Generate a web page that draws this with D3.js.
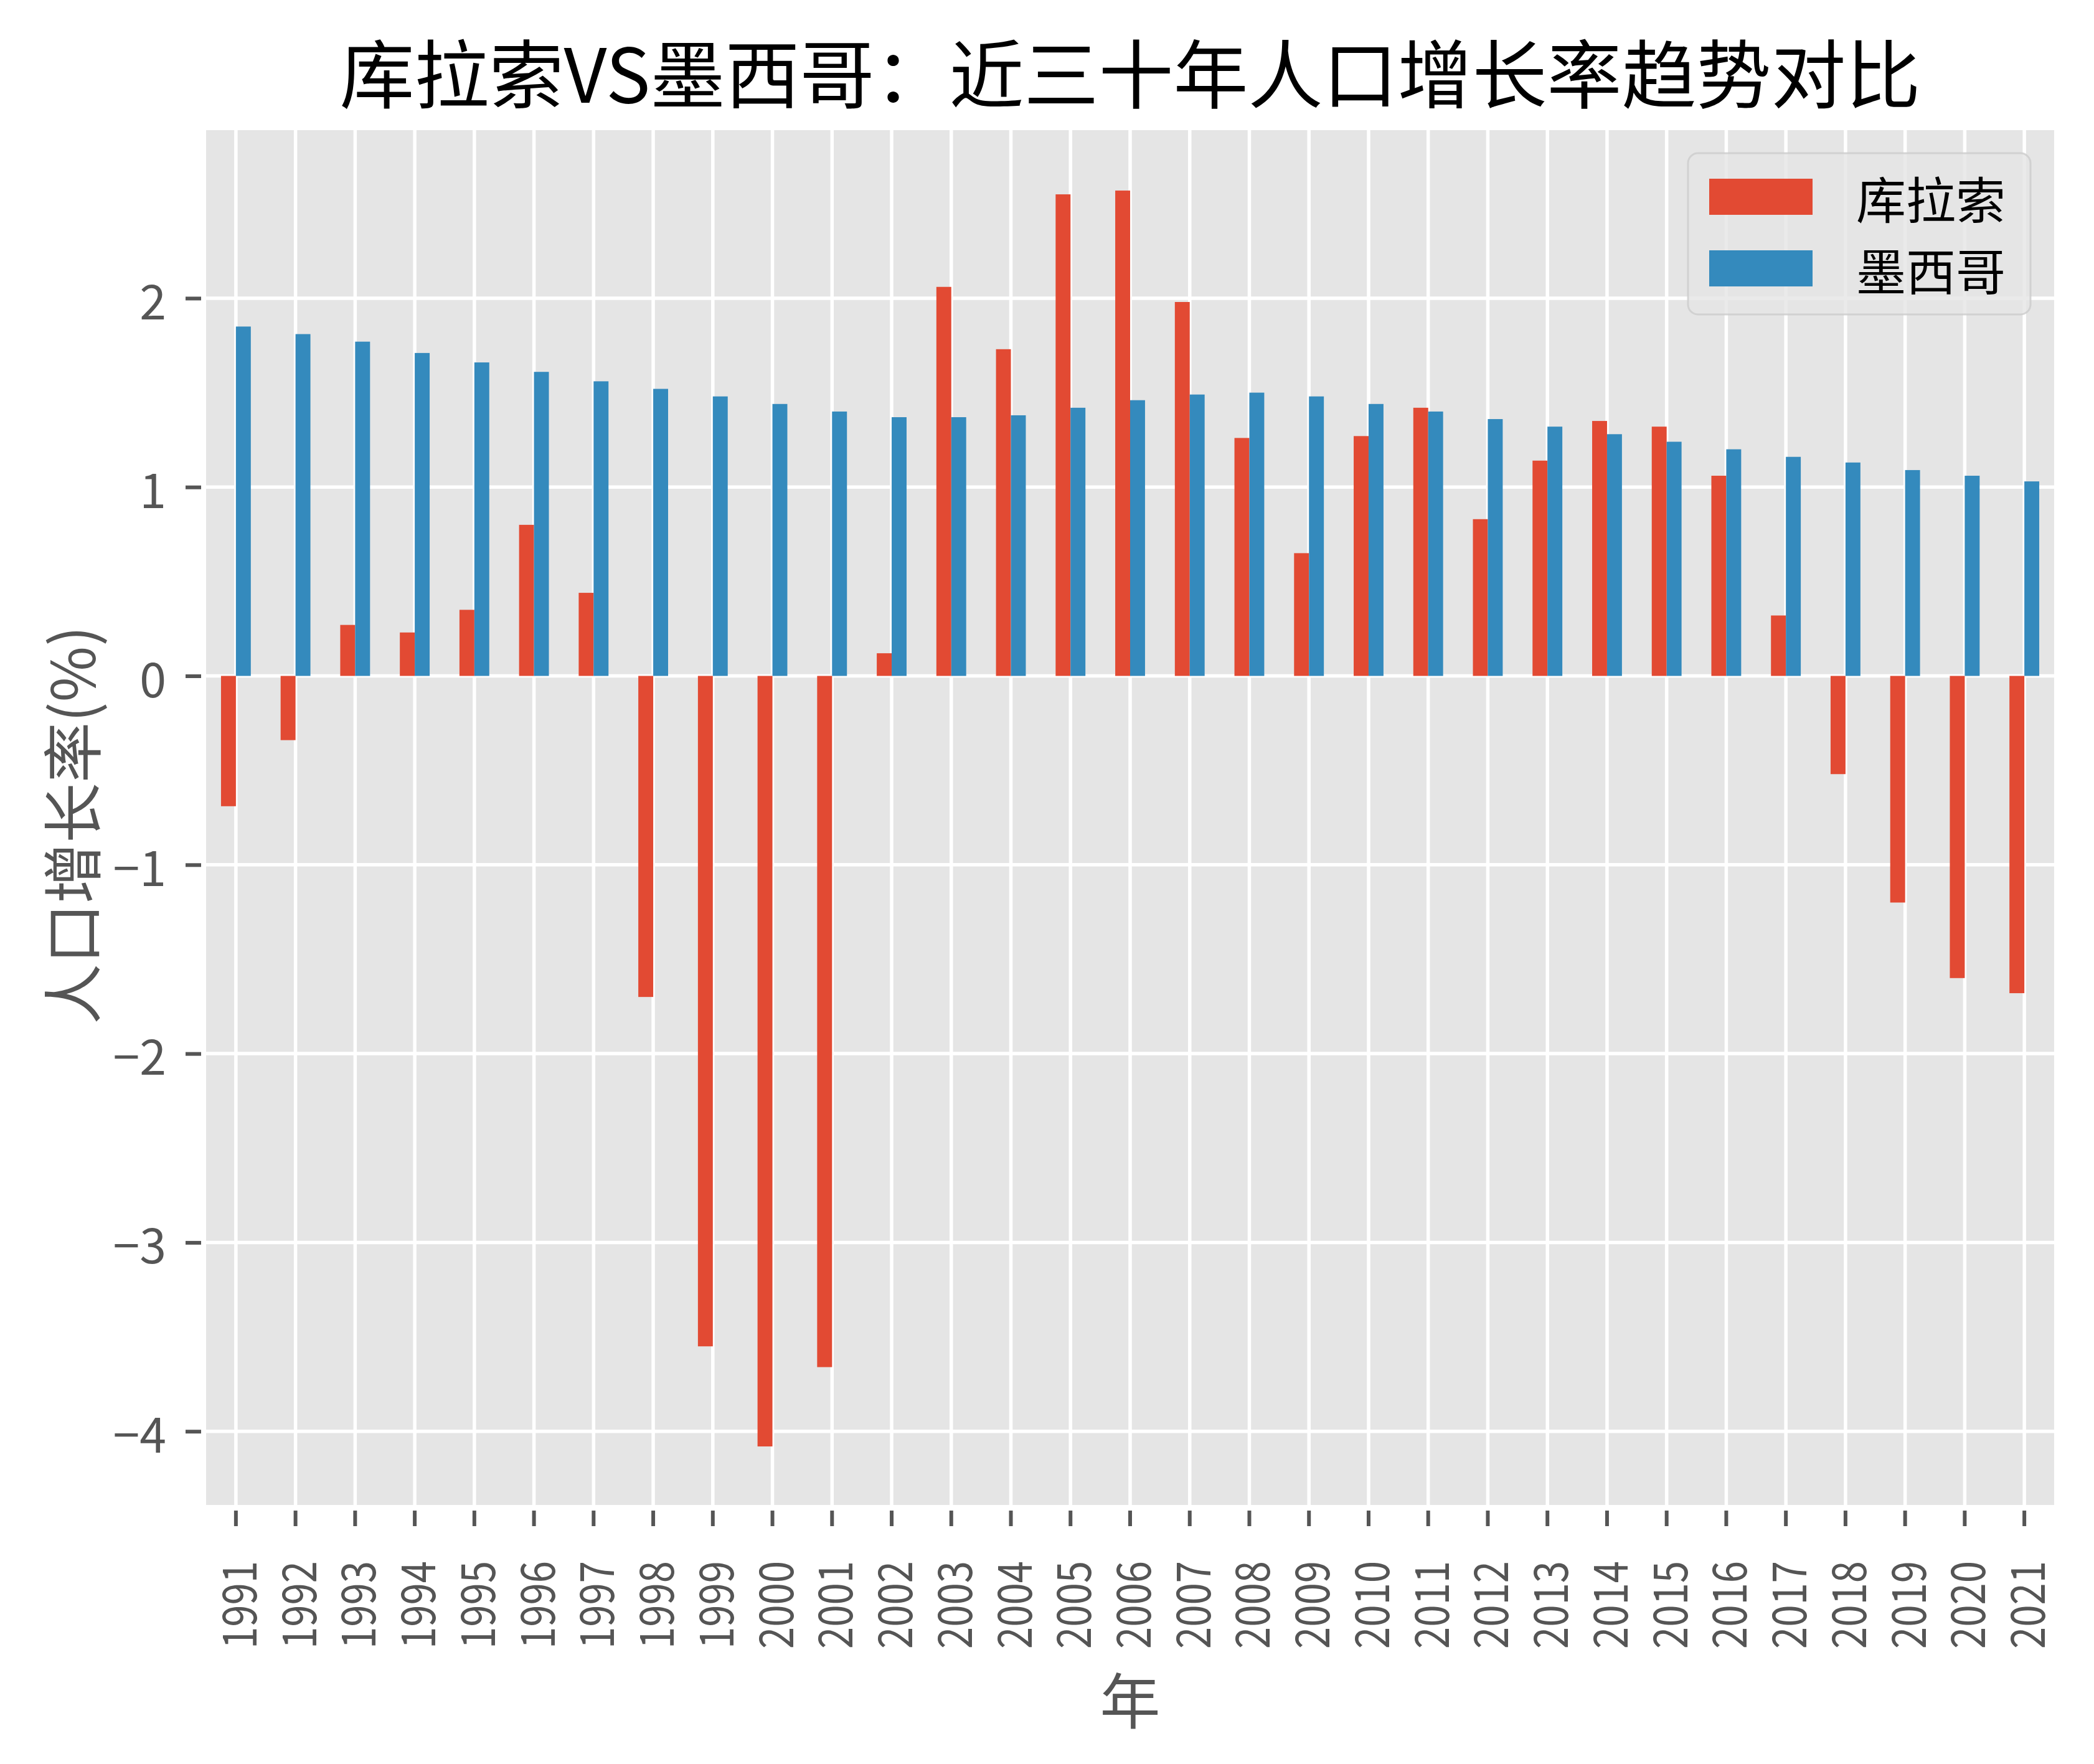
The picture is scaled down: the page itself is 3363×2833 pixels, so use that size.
<!DOCTYPE html>
<html>
<head>
<meta charset="utf-8">
<script src="https://cdn.jsdelivr.net/npm/d3@7"></script>
<style>
  html, body { margin: 0; padding: 0; background: #ffffff; }
  svg { display: block; }
  text { font-family: "Noto Sans CJK SC", "Noto Sans", sans-serif; }
</style>
</head>
<body>
<script>
// ---- data ----
const years = [1991,1992,1993,1994,1995,1996,1997,1998,1999,2000,2001,2002,2003,2004,2005,2006,2007,2008,2009,2010,2011,2012,2013,2014,2015,2016,2017,2018,2019,2020,2021];
const curacao = [-0.69,-0.34,0.27,0.23,0.35,0.80,0.44,-1.70,-3.55,-4.08,-3.66,0.12,2.06,1.73,2.55,2.57,1.98,1.26,0.65,1.27,1.42,0.83,1.14,1.35,1.32,1.06,0.32,-0.52,-1.20,-1.60,-1.68];
const mexico  = [1.85,1.81,1.77,1.71,1.66,1.61,1.56,1.52,1.48,1.44,1.40,1.37,1.37,1.38,1.42,1.46,1.49,1.50,1.48,1.44,1.40,1.36,1.32,1.28,1.24,1.20,1.16,1.13,1.09,1.06,1.03];
const seriesNames = ["库拉索", "墨西哥"];
const seriesColors = ["#E24A33", "#348ABD"];
const yTicks = [-4,-3,-2,-1,0,1,2];
const titleText = "库拉索VS墨西哥：近三十年人口增长率趋势对比";
const xLabel = "年";
const yLabel = "人口增长率(%)";

// ---- layout ----
const W = 3363, H = 2833;
const plot = {left: 331, right: 3299, top: 209, bottom: 2417};

const svg = d3.select("body").append("svg").attr("width", W).attr("height", H);
svg.append("rect").attr("width", W).attr("height", H).attr("fill", "#ffffff");

const x = d3.scaleBand().domain(years).range([plot.left, plot.right]).padding(0);
const y = d3.scaleLinear().domain([-4.39, 2.89]).range([plot.bottom, plot.top]);
const bw = x.bandwidth();
const cx = d => x(d) + bw / 2;
const barW = bw * 0.25;

// background
svg.append("rect")
  .attr("x", plot.left).attr("y", plot.top)
  .attr("width", plot.right - plot.left).attr("height", plot.bottom - plot.top)
  .attr("fill", "#E5E5E5");

// grid
const grid = svg.append("g");
grid.selectAll("line.h").data(yTicks).enter().append("line")
  .attr("x1", plot.left).attr("x2", plot.right)
  .attr("y1", d => y(d)).attr("y2", d => y(d))
  .attr("stroke", "#ffffff").attr("stroke-width", 5.5);
grid.selectAll("line.v").data(years).enter().append("line")
  .attr("y1", plot.top).attr("y2", plot.bottom)
  .attr("x1", d => cx(d)).attr("x2", d => cx(d))
  .attr("stroke", "#ffffff").attr("stroke-width", 5.5);

// bars
const rows = years.map((yr, i) => ({year: yr, c: curacao[i], m: mexico[i]}));
const bars = svg.append("g");
bars.selectAll("rect.c").data(rows).enter().append("rect")
  .attr("x", d => cx(d.year) - barW)
  .attr("width", barW)
  .attr("y", d => y(Math.max(0, d.c)))
  .attr("height", d => Math.abs(y(d.c) - y(0)))
  .attr("fill", seriesColors[0]);
bars.selectAll("rect.m").data(rows).enter().append("rect")
  .attr("x", d => cx(d.year))
  .attr("width", barW)
  .attr("y", d => y(Math.max(0, d.m)))
  .attr("height", d => Math.abs(y(d.m) - y(0)))
  .attr("fill", seriesColors[1]);

// y axis
const yAxis = d3.axisLeft(y).tickValues(yTicks)
  .tickFormat(d => (d < 0 ? "\u2212" + Math.abs(d) : String(d)))
  .tickSizeInner(25).tickSizeOuter(0).tickPadding(31);
const gy = svg.append("g").attr("transform", `translate(${plot.left - 8},0)`).call(yAxis);
gy.select(".domain").remove();
gy.selectAll(".tick line").attr("stroke", "#555555").attr("stroke-width", 6);
gy.selectAll(".tick text")
  .attr("fill", "#555555").attr("font-size", 77)
  .attr("dy", null).attr("dominant-baseline", "central")
  .style("font-family", '"Noto Sans CJK SC", sans-serif');

// x axis
const xAxis = d3.axisBottom(x).tickSizeInner(25).tickSizeOuter(0).tickPadding(0);
const gx = svg.append("g").attr("transform", `translate(0,${plot.bottom + 9})`).call(xAxis);
gx.select(".domain").remove();
gx.selectAll(".tick line").attr("stroke", "#555555").attr("stroke-width", 6);
gx.selectAll(".tick text")
  .attr("fill", "#555555").attr("font-size", 76)
  .attr("dy", null).attr("y", 0)
  .attr("text-anchor", "end")
  .attr("dominant-baseline", "central")
  .attr("textLength", 141).attr("lengthAdjust", "spacingAndGlyphs")
  .attr("transform", "translate(0,81) rotate(-90)")
  .style("font-family", '"Noto Sans CJK SC", sans-serif');

// title
svg.append("text")
  .attr("x", (plot.left + plot.right) / 2).attr("y", 113)
  .attr("text-anchor", "middle").attr("dominant-baseline", "central")
  .attr("font-size", 120).attr("fill", "#000000")
  .text(titleText);

// axis labels
svg.append("text")
  .attr("x", (plot.left + plot.right) / 2).attr("y", 2725)
  .attr("text-anchor", "middle").attr("dominant-baseline", "central")
  .attr("font-size", 97).attr("fill", "#555555")
  .text(xLabel);
svg.append("text")
  .attr("transform", `translate(110,${(plot.top + plot.bottom) / 2 + 12}) rotate(-90)`)
  .attr("text-anchor", "middle").attr("dominant-baseline", "central")
  .attr("font-size", 97).attr("fill", "#555555")
  .text(yLabel);

// legend
const lg = svg.append("g");
lg.append("rect")
  .attr("x", 2711).attr("y", 246).attr("width", 550).attr("height", 259)
  .attr("rx", 16).attr("ry", 16)
  .attr("fill", "#E5E5E5").attr("fill-opacity", 0.8)
  .attr("stroke", "#CCCCCC").attr("stroke-opacity", 0.8).attr("stroke-width", 3);
const legendY = [316, 431];
seriesNames.forEach((name, i) => {
  lg.append("rect")
    .attr("x", 2745).attr("y", legendY[i] - 29).attr("width", 166).attr("height", 58)
    .attr("fill", seriesColors[i]);
  lg.append("text")
    .attr("x", 2981).attr("y", legendY[i])
    .attr("dominant-baseline", "central")
    .attr("font-size", 80).attr("fill", "#000000")
    .text(name);
});
</script>
</body>
</html>
